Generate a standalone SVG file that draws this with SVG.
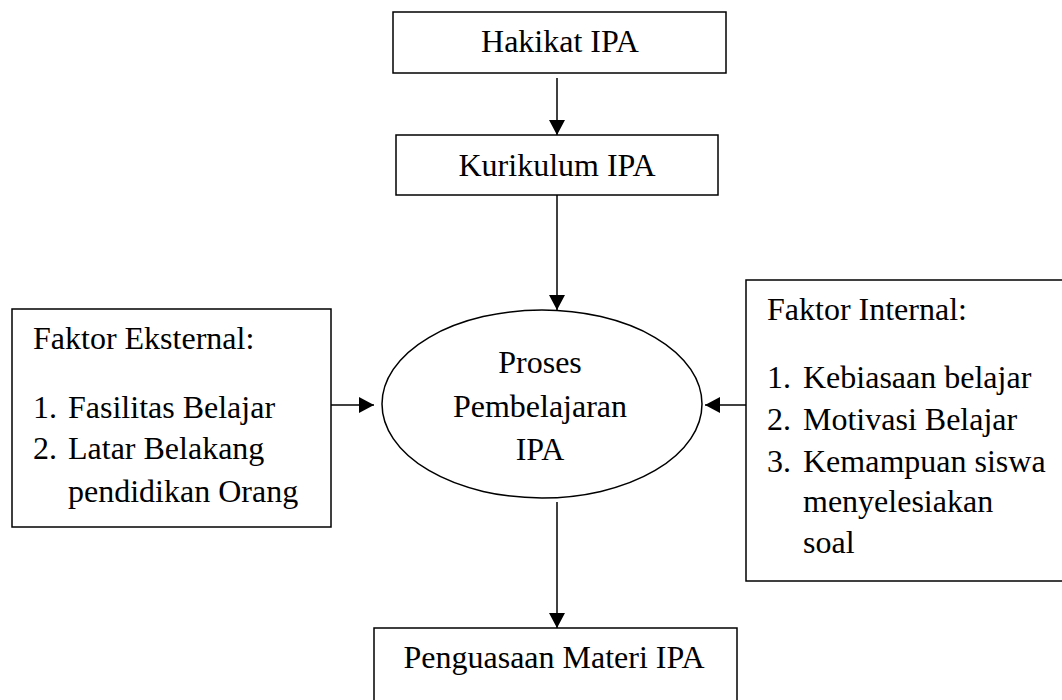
<svg xmlns="http://www.w3.org/2000/svg" width="1062" height="700" viewBox="0 0 1062 700">
<style>
.box{fill:#fff;stroke:#000;stroke-width:1.5}
.t{font-family:"Liberation Serif","Times New Roman",serif;font-size:32px;fill:#000}
.c{text-anchor:middle}
.ln{stroke:#000;stroke-width:1.5;fill:none}
</style>
<defs>
<marker id="ah" viewBox="0 0 15 16" refX="15" refY="8" markerWidth="15" markerHeight="16" markerUnits="userSpaceOnUse" orient="auto">
<path d="M0,0 L15,8 L0,16 Z" fill="#000"/>
</marker>
</defs>
<rect width="1062" height="700" fill="#fff"/>
<g id="connectors">
<line class="ln" x1="557" y1="78" x2="557" y2="135" marker-end="url(#ah)"/>
<line class="ln" x1="557" y1="191" x2="557" y2="310" marker-end="url(#ah)"/>
<line class="ln" x1="331" y1="405" x2="374" y2="405" marker-end="url(#ah)"/>
<line class="ln" x1="746" y1="405" x2="705" y2="405" marker-end="url(#ah)"/>
<line class="ln" x1="557" y1="502" x2="557" y2="628" marker-end="url(#ah)"/>
</g>
<g id="hakikat">
<rect class="box" x="393" y="12" width="333" height="61"/>
<text class="t c" x="560" y="52">Hakikat IPA</text>
</g>
<g id="kurikulum">
<rect class="box" x="396" y="135" width="322" height="60"/>
<text class="t c" x="557" y="176">Kurikulum IPA</text>
</g>
<g id="proses">
<ellipse class="box" cx="542" cy="404" rx="160" ry="94"/>
<text class="t c" x="540" y="373">Proses</text>
<text class="t c" x="540" y="417">Pembelajaran</text>
<text class="t c" x="540" y="460">IPA</text>
</g>
<g id="eksternal">
<rect class="box" x="12" y="309" width="319" height="218"/>
<text class="t" x="33" y="349">Faktor Eksternal:</text>
<text class="t" x="33" y="418">1.</text><text class="t" x="68" y="418">Fasilitas Belajar</text>
<text class="t" x="33" y="459">2.</text><text class="t" x="68" y="459">Latar Belakang</text>
<text class="t" x="68" y="502">pendidikan Orang</text>
</g>
<g id="internal">
<rect class="box" x="746" y="280" width="330" height="301"/>
<text class="t" x="767" y="320">Faktor Internal:</text>
<text class="t" x="767" y="388">1.</text><text class="t" x="803" y="388">Kebiasaan belajar</text>
<text class="t" x="767" y="430">2.</text><text class="t" x="803" y="430">Motivasi Belajar</text>
<text class="t" x="767" y="472">3.</text><text class="t" x="803" y="472">Kemampuan siswa</text>
<text class="t" x="803" y="512">menyelesiakan</text>
<text class="t" x="803" y="553">soal</text>
</g>
<g id="penguasaan">
<rect class="box" x="374" y="628" width="363" height="100"/>
<text class="t c" x="554" y="668">Penguasaan Materi IPA</text>
</g>
</svg>
